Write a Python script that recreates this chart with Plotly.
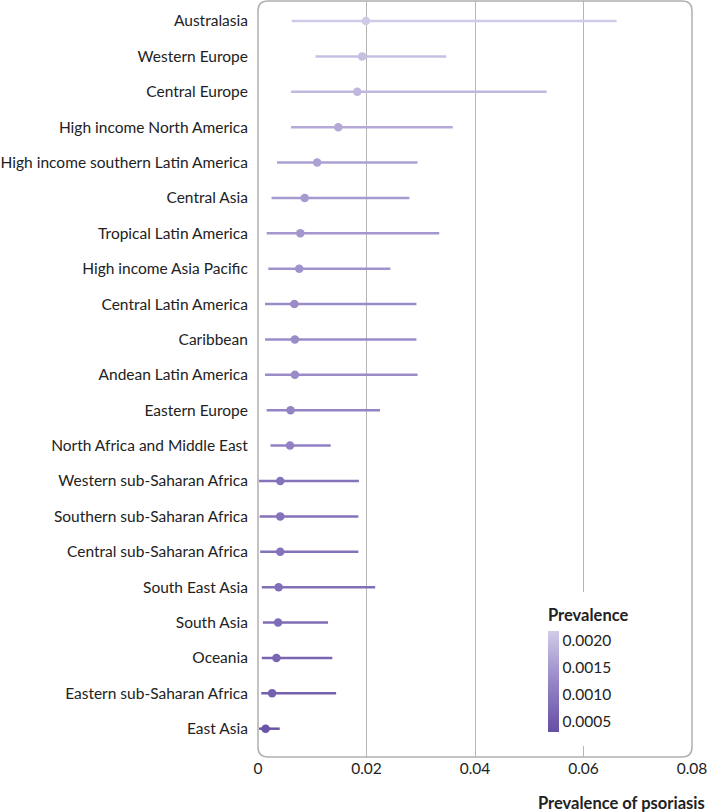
import plotly.graph_objects as go
from plotly.colors import sample_colorscale

regions = [
    "Australasia", "Western Europe", "Central Europe", "High income North America",
    "High income southern Latin America", "Central Asia", "Tropical Latin America",
    "High income Asia Pacific", "Central Latin America", "Caribbean",
    "Andean Latin America", "Eastern Europe", "North Africa and Middle East",
    "Western sub-Saharan Africa", "Southern sub-Saharan Africa",
    "Central sub-Saharan Africa", "South East Asia", "South Asia", "Oceania",
    "Eastern sub-Saharan Africa", "East Asia",
]
prev_point = [0.0199, 0.0192, 0.0183, 0.0148, 0.0109, 0.0086, 0.0078,
              0.0076, 0.0067, 0.0068, 0.0068, 0.0060, 0.0059,
              0.0041, 0.0041, 0.0041, 0.0038, 0.0037, 0.0034, 0.0026, 0.0014]
prev_low = [0.0062, 0.0106, 0.0061, 0.0061, 0.0035, 0.0025, 0.0016,
            0.0019, 0.0013, 0.0013, 0.0013, 0.0016, 0.0023,
            0.0002, 0.0003, 0.0004, 0.0007, 0.0009, 0.0007, 0.0006, 0.0002]
prev_high = [0.0661, 0.0347, 0.0532, 0.0359, 0.0294, 0.0279, 0.0334,
             0.0244, 0.0292, 0.0292, 0.0294, 0.0225, 0.0134,
             0.0186, 0.0185, 0.0185, 0.0216, 0.0129, 0.0137, 0.0144, 0.0040]
# colour-scale value of each row
colour_value = [0.00215, 0.0020, 0.0019, 0.0017, 0.0016, 0.0015, 0.00145,
                0.0014, 0.0013, 0.0013, 0.0013, 0.0012, 0.00115,
                0.0009, 0.0009, 0.0009, 0.00085, 0.0008, 0.0007, 0.0006, 0.0004]
x_ticks = [0, 0.02, 0.04, 0.06, 0.08]
x_tick_labels = ["0", "0.02", "0.04", "0.06", "0.08"]
cbar_ticks = [0.0005, 0.0010, 0.0015, 0.0020]
cbar_tick_labels = ["0.0005", "0.0010", "0.0015", "0.0020"]

CMIN, CMAX = 0.00031, 0.00217
cscale = [[0, "#654fa3"], [0.5, "#9686c7"], [1, "#d2cce8"]]
FONT = "Lato"
TXT = "#222222"

L, R, T, B = 258, 15, 1, 55
PW = 707 - L - R
PH = 812 - T - B

fig = go.Figure()
for r, lo, hi, cv in zip(regions, prev_low, prev_high, colour_value):
    t = min(max((cv - CMIN) / (CMAX - CMIN), 0), 1)
    col = sample_colorscale(cscale, [t])[0]
    fig.add_trace(go.Scatter(
        x=[lo, hi], y=[r, r], mode="lines",
        line=dict(color=col, width=2.5), showlegend=False, hoverinfo="skip"))

fig.add_trace(go.Scatter(
    x=prev_point, y=regions, mode="markers", showlegend=False,
    marker=dict(size=8.5, color=colour_value, colorscale=cscale, cmin=CMIN, cmax=CMAX,
                line=dict(width=0),
                colorbar=dict(
                    title=dict(text="<b>Prevalence</b>", side="top",
                               font=dict(family=FONT, size=16.5, color=TXT)),
                    tickvals=cbar_ticks, ticktext=cbar_tick_labels,
                    tickfont=dict(family=FONT, size=15.5, color=TXT),
                    ticks="", outlinewidth=0, thickness=11,
                    lenmode="pixels", len=154,
                    x=(540 - L) / PW, xanchor="left",
                    y=(T + PH - 746) / PH, yanchor="bottom",
                    xpad=8, ypad=14, bgcolor="white",
                ))))

rx, ry = 10 / PW, 10 / PH
path = (f"M {rx},0 L {1-rx},0 Q 1,0 1,{ry} L 1,{1-ry} Q 1,1 {1-rx},1 "
        f"L {rx},1 Q 0,1 0,{1-ry} L 0,{ry} Q 0,0 {rx},0 Z")
fig.add_shape(type="path", path=path, xref="paper", yref="paper",
              line=dict(color="#b0b0b0", width=1.5), layer="above")

fig.add_annotation(text="<b>Prevalence of psoriasis</b>", xref="paper", yref="paper",
                   x=(707 - L) / PW, y=(T + PH - 803) / PH, xanchor="right",
                   yanchor="middle", showarrow=False,
                   font=dict(family=FONT, size=16.5, color=TXT))

fig.update_xaxes(range=[0, 0.08], tickvals=x_ticks, ticktext=x_tick_labels,
                 showgrid=True, gridcolor="#b5b5b5", gridwidth=1, zeroline=False,
                 showline=False, ticks="", ticklen=0, ticklabeloverflow="allow",
                 tickfont=dict(family=FONT, size=15.5, color=TXT), fixedrange=True)
fig.update_yaxes(type="category", categoryorder="array", categoryarray=regions[::-1],
                 range=[-0.8, 20.565], showgrid=False, zeroline=False, showline=False,
                 ticks="outside", ticklen=6, tickcolor="rgba(0,0,0,0)",
                 tickfont=dict(family=FONT, size=15.5, color=TXT), fixedrange=True)
fig.update_layout(width=707, height=812,
                  margin=dict(l=L, r=R, t=T, b=B, autoexpand=False),
                  plot_bgcolor="white", paper_bgcolor="white",
                  font=dict(family=FONT, color=TXT))
fig.write_html("out.html", config={"displayModeBar": False},
               post_script="document.body.style.margin='0';")
